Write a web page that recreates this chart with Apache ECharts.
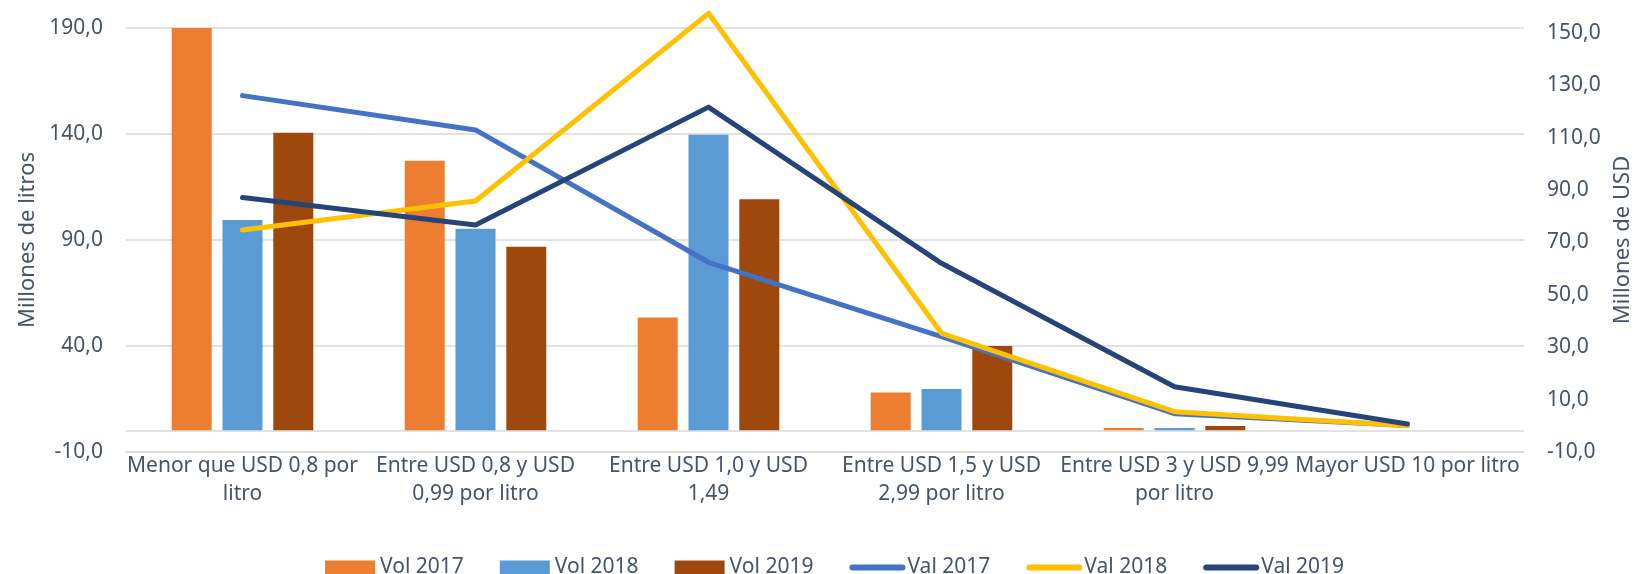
<!DOCTYPE html>
<html>
<head>
<meta charset="utf-8">
<script src="https://cdn.jsdelivr.net/npm/echarts@6/dist/echarts.min.js"></script>
<style>
  html, body { margin: 0; padding: 0; background: #fff; }
  #main { width: 1639px; height: 574px; }
</style>
</head>
<body>
<div id="main"></div>
<script>
// datos
var categorias = ['Menor que USD 0,8 por\nlitro', 'Entre USD 0,8 y USD\n0,99 por litro', 'Entre USD 1,0 y USD\n1,49',
  'Entre USD 1,5 y USD\n2,99 por litro', 'Entre USD 3 y USD 9,99\npor litro', 'Mayor USD 10 por litro'];
var vol2017 = [193.3, 127.4, 53.5, 18.1, 1.3, 0];
var vol2018 = [99.4, 95.3, 139.7, 19.7, 1.3, 0];
var vol2019 = [140.6, 86.8, 109.2, 40.0, 2.3, 0];
var val2017 = [126.0, 112.9, 62.4, 34.0, 4.6, 0.1];
var val2018 = [74.7, 85.8, 157.4, 35.3, 5.4, 0];
var val2019 = [87.1, 76.6, 121.6, 62.0, 14.9, 0.7];

var texto = '#44546a';
var fuente = 'Noto Sans';
var rejilla = '#d9d9d9';

function coma(v) { return v.toFixed(1).replace('.', ','); }

function barra(nombre, datos, color) {
    return {
        name: nombre,
        type: 'bar',
        barWidth: 40,
        barGap: '27%',
        itemStyle: { color: color },
        data: datos
    };
}

function linea(nombre, datos, color) {
    return {
        name: nombre,
        type: 'line',
        yAxisIndex: 1,
        symbol: 'none',
        showSymbol: false,
        clip: false,
        itemStyle: { color: color },
        lineStyle: { color: color, width: 5, cap: 'round', join: 'round' },
        data: datos
    };
}

function leyendaLinea(nombre) {
    return { name: nombre, itemStyle: { opacity: 0 }, lineStyle: { width: 6, cap: 'round' } };
}

var myChart = echarts.init(document.getElementById('main'));
var serieVol = barra('Vol 2017', vol2017, '#ed7d31');
// linea del cero (eje de categorias cruza en 0)
serieVol.markLine = {
    silent: true,
    symbol: 'none',
    label: { show: false },
    lineStyle: { color: rejilla, type: 'solid', width: 1.5 },
    data: [{ yAxis: 0 }]
};

var option = {
    animation: false,
    textStyle: { fontFamily: fuente },
    grid: { left: 126, right: 115, top: 28, bottom: 122, outerBoundsMode: 'none', containLabel: false },
    legend: {
        top: 552,
        left: 320,
        itemWidth: 50,
        itemHeight: 14,
        itemGap: 36,
        textStyle: { color: texto, fontSize: 21, fontFamily: fuente },
        data: [
            { name: 'Vol 2017', icon: 'rect' },
            { name: 'Vol 2018', icon: 'rect' },
            { name: 'Vol 2019', icon: 'rect' },
            leyendaLinea('Val 2017'), leyendaLinea('Val 2018'), leyendaLinea('Val 2019')
        ]
    },
    xAxis: {
        type: 'category',
        data: categorias,
        axisTick: { show: false },
        axisLine: { show: true, onZero: false, lineStyle: { color: rejilla, width: 1.5 } },
        axisLabel: { interval: 0, color: texto, fontSize: 21, lineHeight: 28, margin: 0 }
    },
    yAxis: [
        {
            type: 'value',
            min: -10,
            max: 190,
            interval: 50,
            name: 'Millones de litros',
            nameLocation: 'middle',
            nameRotate: 90,
            nameGap: 87,
            nameTextStyle: { color: texto, fontSize: 22 },
            axisLine: { show: false },
            axisTick: { show: false },
            axisLabel: { color: texto, fontSize: 21, margin: 23, formatter: coma },
            splitLine: { lineStyle: { color: rejilla, width: 1.5 } }
        },
        {
            type: 'value',
            min: -10,
            max: 151.8,
            interval: 20,
            name: 'Millones de USD',
            nameLocation: 'middle',
            nameRotate: 90,
            nameGap: 88,
            nameTextStyle: { color: texto, fontSize: 22 },
            axisLine: { show: false },
            axisTick: { show: false },
            axisLabel: {
                color: texto, fontSize: 21, margin: 23, showMaxLabel: false,
                formatter: function (v) { return (Math.abs((v + 10) % 20) < 0.01) ? coma(v) : ''; }
            },
            splitLine: { show: false }
        }
    ],
    series: [
        serieVol,
        barra('Vol 2018', vol2018, '#5b9bd5'),
        barra('Vol 2019', vol2019, '#9e480e'),
        linea('Val 2017', val2017, '#4472c4'),
        linea('Val 2018', val2018, '#ffc000'),
        linea('Val 2019', val2019, '#264478')
    ]
};

myChart.setOption(option);
window.onresize = myChart.resize;
</script>
</body>
</html>
